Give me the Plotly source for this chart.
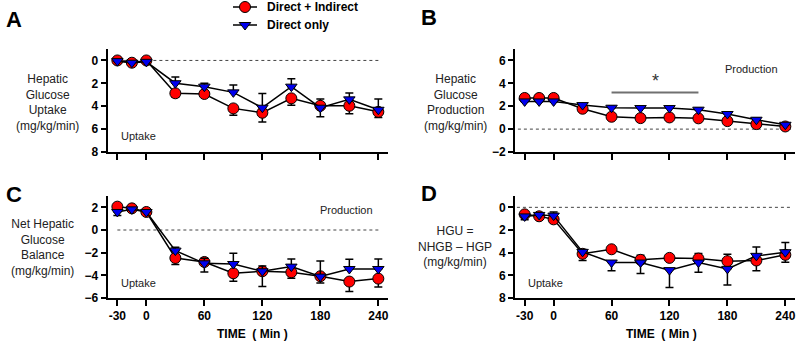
import plotly.graph_objects as go

time = [-30, -15, 0, 30, 60, 90, 120, 150, 180, 210, 240]
x_tickvals = [-30, 0, 60, 120, 180, 240]
x_ticktext = ["-30", "0", "60", "120", "180", "240"]

# Panel A: Hepatic Glucose Uptake (reversed axis)
a_red = [0.0, 0.2, 0.0, 2.87, 2.93, 4.19, 4.57, 3.31, 3.96, 3.96, 4.49]
a_red_hi = [0, 0, 0, 0.35, 0.2, 0.6, 0.8, 0.6, 0, 0.7, 0.5]
a_red_lo = [0, 0, 0, 0, 0, 0, 0, 0, 0.6, 0, 0]
a_blue = [0.06, 0.2, 0.12, 1.99, 2.29, 2.79, 4.13, 2.29, 4.13, 3.4, 4.31]
a_blue_hi = [0, 0, 0, 0, 0, 0, 0, 0, 0.8, 0, 0]
a_blue_lo = [0, 0, 0, 0.55, 0.3, 0.65, 1.25, 0.68, 0, 0.56, 0.94]

# Panel B: Hepatic Glucose Production
b_red = [2.72, 2.72, 2.72, 1.78, 1.08, 0.96, 1.02, 0.94, 0.70, 0.44, 0.23]
b_red_hi = [0, 0, 0, 0, 0, 0, 0, 0, 0, 0, 0]
b_red_lo = [0, 0, 0, 0.1, 0.25, 0.3, 0.25, 0.15, 0.15, 0.15, 0.1]
b_blue = [2.42, 2.42, 2.42, 2.1, 1.87, 1.84, 1.84, 1.70, 1.32, 0.82, 0.38]
b_blue_hi = [0, 0, 0, 0.1, 0.15, 0.15, 0.15, 0.15, 0.15, 0.15, 0.1]
b_blue_lo = [0, 0, 0, 0, 0, 0, 0, 0, 0, 0, 0]

# Panel C: Net Hepatic Glucose Balance
c_red = [2.06, 1.91, 1.59, -2.47, -2.82, -3.82, -3.64, -3.73, -4.08, -4.55, -4.29]
c_red_hi = [0, 0, 0, 0, 0, 0, 0, 0, 0, 0, 0]
c_red_lo = [0, 0, 0, 0.58, 0.88, 0.7, 1.35, 0.53, 0.6, 0.88, 0.73]
c_blue = [1.59, 1.82, 1.59, -1.82, -2.94, -3.0, -3.64, -3.23, -4.11, -3.44, -3.44]
c_blue_hi = [0, 0, 0.2, 0.3, 0.44, 0.94, 0.47, 0.67, 1.38, 0.86, 0.88]
c_blue_lo = [0.3, 0, 0, 0, 0, 0, 0, 0, 0, 0, 0]

# Panel D: HGU = NHGB - HGP (reversed axis)
d_red = [0.62, 0.79, 1.06, 4.1, 3.7, 4.63, 4.46, 4.52, 4.75, 4.69, 4.19]
d_red_hi = [0, 0, 0, 0.6, 0, 0, 0, 0, 0, 0.91, 0.65]
d_red_lo = [0, 0, 0, 0, 0.15, 0.41, 0.15, 0.44, 0.62, 0, 0]
d_blue = [0.8, 0.67, 0.73, 3.93, 4.87, 4.87, 5.54, 4.87, 5.43, 4.28, 3.96]
d_blue_hi = [0.3, 0, 0, 0, 0.73, 0.97, 1.53, 0.85, 1.43, 0, 0]
d_blue_lo = [0, 0, 0.32, 0.2, 0, 0, 0, 0, 0, 0.79, 0.85]

series_names = ["Direct + Indirect", "Direct only"]
sig_range = [60, 150]

FONT = "Liberation Sans, Arial, sans-serif"
RED_STYLE = dict(symbol="circle", size=11, color="#ff0000", line=dict(color="black", width=1))
BLUE_STYLE = dict(symbol="triangle-down", size=10, color="#0000ee", line=dict(color="black", width=1))

fig = go.Figure()

panels = [
    ("x", "y", a_red, a_red_hi, a_red_lo, a_blue, a_blue_hi, a_blue_lo),
    ("x2", "y2", b_red, b_red_hi, b_red_lo, b_blue, b_blue_hi, b_blue_lo),
    ("x3", "y3", c_red, c_red_hi, c_red_lo, c_blue, c_blue_hi, c_blue_lo),
    ("x4", "y4", d_red, d_red_hi, d_red_lo, d_blue, d_blue_hi, d_blue_lo),
]

for i, (xa, ya, r, rh, rl, b, bh, bl) in enumerate(panels):
    fig.add_trace(go.Scatter(
        x=time, y=r, xaxis=xa, yaxis=ya, mode="lines+markers",
        name=series_names[0], showlegend=False,
        line=dict(color="black", width=1.5), marker=RED_STYLE,
        error_y=dict(type="data", symmetric=False, array=rh, arrayminus=rl,
                     color="black", thickness=1.5, width=4),
    ))
    fig.add_trace(go.Scatter(
        x=time, y=b, xaxis=xa, yaxis=ya, mode="lines+markers",
        name=series_names[1], showlegend=False,
        line=dict(color="black", width=1.5), marker=BLUE_STYLE,
        error_y=dict(type="data", symmetric=False, array=bh, arrayminus=bl,
                     color="black", thickness=1.5, width=4),
    ))

# custom legend drawn on a hidden pixel-space overlay axis
legend_rows = [(7, RED_STYLE, series_names[0]), (25, BLUE_STYLE, series_names[1])]
for ly, mk, name in legend_rows:
    fig.add_trace(go.Scatter(
        x=[233, 257], y=[ly, ly], xaxis="x5", yaxis="y5",
        mode="lines", showlegend=False, hoverinfo="skip", cliponaxis=False,
        line=dict(color="black", width=1.5),
    ))
    fig.add_trace(go.Scatter(
        x=[245], y=[ly], xaxis="x5", yaxis="y5",
        mode="markers", showlegend=False, hoverinfo="skip", cliponaxis=False,
        marker=mk,
    ))
    fig.add_annotation(xref="x5", yref="y5", x=265, y=ly, text=name,
                       showarrow=False, xanchor="left", yanchor="middle",
                       font=dict(family=FONT, size=12, color="black", weight="bold"))

x_left = [107.7 / 800, 388 / 800]
x_right = [515 / 800, 795 / 800]
y_top = [1 - 152 / 342, 1 - 49 / 342]
y_bot = [1 - 298 / 342, 1 - 196 / 342]

def xaxis(domain, anchor, labels):
    return dict(
        domain=domain, anchor=anchor, range=[-40, 250], automargin=False,
        tickvals=x_tickvals, ticktext=x_ticktext, showticklabels=labels,
        ticks="outside", ticklen=6, tickwidth=1.5, tickcolor="black",
        showline=True, linecolor="black", linewidth=2,
        showgrid=False, zeroline=False,
        tickfont=dict(family=FONT, size=12, color="black", weight="bold"),
    )

def yaxis(domain, anchor, rng, vals):
    return dict(
        domain=domain, anchor=anchor, range=rng, tickvals=vals, automargin=False,
        ticks="outside", ticklen=5, tickwidth=1.5, tickcolor="black",
        showline=True, linecolor="black", linewidth=2,
        showgrid=False, zeroline=False,
        tickfont=dict(family=FONT, size=12, color="black", weight="bold"),
    )

fig.update_layout(
    width=800, height=342, autosize=False,
    margin=dict(l=0, r=0, t=0, b=0, pad=0, autoexpand=False),
    paper_bgcolor="white", plot_bgcolor="rgba(0,0,0,0)",
    font=dict(family=FONT, color="black"),
    showlegend=False,
    xaxis=xaxis(x_left, "y", False),
    yaxis=yaxis(y_top, "x", [8, -1], [0, 2, 4, 6, 8]),
    xaxis2=xaxis(x_right, "y2", False),
    yaxis2=yaxis(y_top, "x2", [-2, 7], [-2, 0, 2, 4, 6]),
    xaxis3=xaxis(x_left, "y3", True),
    yaxis3=yaxis(y_bot, "x3", [-6, 3], [-6, -4, -2, 0, 2]),
    xaxis4=xaxis(x_right, "y4", True),
    yaxis4=yaxis(y_bot, "x4", [8, -1], [0, 2, 4, 6, 8]),
    xaxis5=dict(domain=[0, 1], range=[0, 800], visible=False, anchor="y5",
                fixedrange=True, automargin=False),
    yaxis5=dict(domain=[0, 1], range=[342, 0], visible=False, anchor="x5",
                fixedrange=True, automargin=False),
)

# dotted zero lines
for xr, yr, x0, x1 in [("x", "y", -30, 242), ("x2", "y2", -37, 247),
                       ("x3", "y3", -30, 242), ("x4", "y4", -38, 245)]:
    fig.add_shape(type="line", xref=xr, yref=yr, x0=x0, x1=x1, y0=0, y1=0,
                  line=dict(color="#444", width=1, dash="dot"), layer="below")

# significance bar in B
fig.add_shape(type="line", xref="x2", yref="y2", x0=sig_range[0], x1=sig_range[1],
              y0=3.2, y1=3.2, line=dict(color="#707070", width=2))
fig.add_annotation(xref="x2", yref="y2", x=(sig_range[0] + sig_range[1]) / 2, y=4.2,
                   text="*", showarrow=False,
                   font=dict(family=FONT, size=18, color="#333"))

def txt(x, y, s, size=12, bold=False, color="#222", align="center"):
    fig.add_annotation(xref="paper", yref="paper", x=x / 800, y=1 - y / 342,
                       text=s, showarrow=False, align=align,
                       xanchor="center", yanchor="middle",
                       font=dict(family=FONT, size=size, color=color,
                                 weight="bold" if bold else "normal"))

# panel letters
txt(14, 19, "A", 22, True, "black")
txt(429, 18, "B", 22, True, "black")
txt(14, 194, "C", 22, True, "black")
txt(429, 193, "D", 22, True, "black")

# y titles
txt(47, 102, "Hepatic<br>Glucose<br>Uptake<br>(mg/kg/min)", 12)
txt(455, 102, "Hepatic<br>Glucose<br>Production<br>(mg/kg/min)", 12)
txt(42, 247, "Net Hepatic<br>Glucose<br>Balance<br>(mg/kg/min)", 12)
txt(455, 246, "HGU =<br>NHGB – HGP<br>(mg/kg/min)", 12)

# region labels
txt(138, 136, "Uptake", 11)
txt(751, 69, "Production", 11)
txt(346, 210, "Production", 11)
txt(138, 283, "Uptake", 11)
txt(545, 283, "Uptake", 11)

# x titles
txt(252, 334, "TIME  ( Min )", 12, True, "black")
txt(661, 334, "TIME  ( Min )", 12, True, "black")

fig.write_html("out.html", config={"displayModeBar": False},
               post_script="document.body.style.margin='0px';document.body.style.overflow='hidden';")
